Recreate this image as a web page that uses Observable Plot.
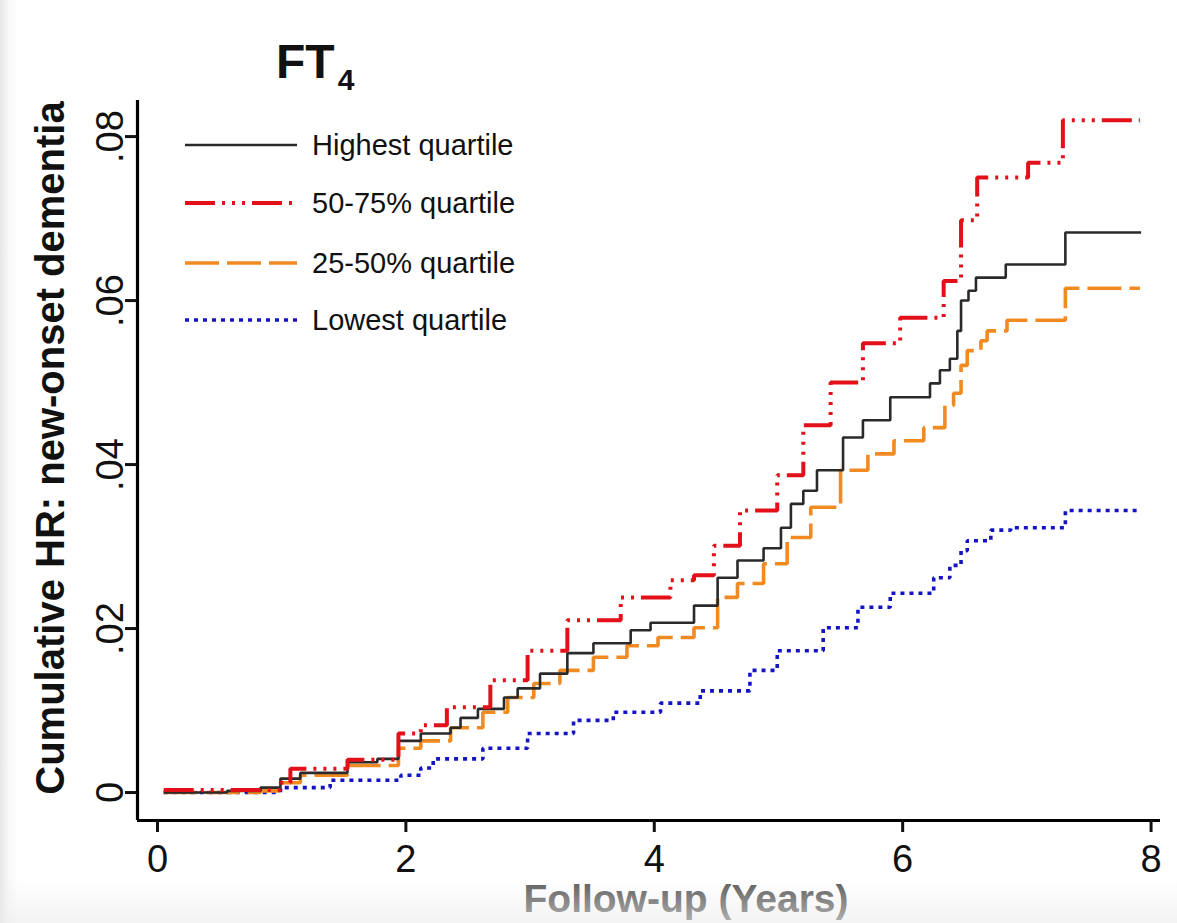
<!DOCTYPE html>
<html>
<head>
<meta charset="utf-8">
<script src="https://cdn.jsdelivr.net/npm/d3@7"></script>
<script src="https://cdn.jsdelivr.net/npm/@observablehq/plot@0.6"></script>
<style>
html,body{margin:0;padding:0;background:#fff;}
#chart{position:relative;width:1177px;height:923px;overflow:hidden;
  background:linear-gradient(to right,#e6e6e6 0px,#f7f7f7 8px,#ffffff 18px);}
#fade{position:absolute;left:0;top:878px;width:1177px;height:45px;pointer-events:none;
  background:linear-gradient(to bottom,rgba(244,244,244,0) 0%,rgba(236,236,236,0.6) 100%);}
</style>
</head>
<body>
<div id="chart"><div id="fade"></div></div>
<script>
// ---- data ----
const seriesNames = ["Highest quartile", "50-75% quartile", "25-50% quartile", "Lowest quartile"];

const highestT = [0.05,0.56,0.83,0.99,1.15,1.53,1.77,1.94,2.12,2.36,2.44,2.58,2.79,2.90,3.08,3.30,3.51,3.81,3.97,4.32,4.51,4.67,4.88,5.02,5.10,5.20,5.31,5.52,5.68,5.90,6.22,6.30,6.38,6.44,6.47,6.53,6.59,6.83,7.31,7.92];
const highestV = [0,0.0002,0.0006,0.0017,0.0024,0.0037,0.0041,0.0063,0.0072,0.0079,0.0091,0.0102,0.0116,0.0127,0.0145,0.0170,0.0182,0.0198,0.0207,0.0228,0.0262,0.0283,0.0298,0.0323,0.0352,0.0368,0.0393,0.0433,0.0454,0.0482,0.0499,0.0515,0.0529,0.0563,0.0600,0.0612,0.0628,0.0644,0.0683,0.0683];

const q5075T = [0.05,0.99,1.07,1.53,1.94,2.12,2.33,2.68,2.98,3.30,3.73,4.13,4.32,4.48,4.69,4.99,5.20,5.42,5.68,5.98,6.33,6.47,6.60,7.01,7.29,7.91];
const q5075V = [0.0003,0.0012,0.0029,0.0040,0.0072,0.0082,0.0104,0.0137,0.0173,0.0210,0.0238,0.0259,0.0265,0.0301,0.0344,0.0387,0.0448,0.0500,0.0548,0.0579,0.0624,0.0698,0.0750,0.0768,0.0820,0.0820];

const q2550T = [0.05,0.83,0.99,1.15,1.53,1.94,2.12,2.36,2.62,2.82,3.03,3.24,3.51,3.78,4.03,4.32,4.51,4.67,4.88,5.07,5.26,5.50,5.72,5.93,6.17,6.34,6.41,6.47,6.52,6.63,6.68,6.84,7.31,7.91];
const q2550V = [0,0.0002,0.0012,0.0021,0.0033,0.0054,0.0063,0.0079,0.0098,0.0116,0.0133,0.0149,0.0165,0.0179,0.0189,0.0201,0.0238,0.0255,0.0279,0.0311,0.0348,0.0393,0.0413,0.0429,0.0445,0.0472,0.0487,0.0521,0.0539,0.0551,0.0563,0.0576,0.0615,0.0615];

const lowestT = [0.05,0.99,1.39,1.96,2.12,2.22,2.62,2.98,3.35,3.67,4.05,4.37,4.77,4.99,5.36,5.64,5.90,6.25,6.38,6.47,6.52,6.71,6.87,7.31,7.89];
const lowestV = [0,0.0006,0.0015,0.0021,0.0030,0.0041,0.0054,0.0072,0.0088,0.0098,0.0109,0.0124,0.0149,0.0173,0.0201,0.0226,0.0243,0.0262,0.0277,0.0295,0.0307,0.0320,0.0323,0.0344,0.0344];

const xTicks = [0, 2, 4, 6, 8];
const yTicks = [0, 0.02, 0.04, 0.06, 0.08];
const yTickLabels = ["0", ".02", ".04", ".06", ".08"];

const titleMain = "FT";
const titleSub = "4";
const xLabel = "Follow-up (Years)";
const yLabel = "Cumulative HR: new-onset dementia";

// ---- styles ----
const styles = [
  {stroke: "#2a2a2a", strokeWidth: 2.6, dash: null},
  {stroke: "#e3101a", strokeWidth: 4, dash: "30,7,3,7,3,7,3,7"},
  {stroke: "#f28a22", strokeWidth: 3.6, dash: "34,8"},
  {stroke: "#1414c4", strokeWidth: 3.6, dash: "4,5"}
];

const seriesT = [highestT, q5075T, q2550T, lowestT];
const seriesV = [highestV, q5075V, q2550V, lowestV];

function rows(i) {
  return seriesT[i].map((t, k) => ({t, v: seriesV[i][k], s: seriesNames[i]}));
}

const xDomain = [-0.161, 8.076];
const yDomain = [-0.00341, 0.0844];
const font = "'Liberation Sans', Arial, Helvetica, sans-serif";

const lineMarks = [3, 2, 0, 1].map(i => Plot.line(rows(i), {
  x: "t", y: "v", curve: "step-after",
  stroke: styles[i].stroke, strokeWidth: styles[i].strokeWidth,
  strokeDasharray: styles[i].dash, strokeLinecap: "butt", strokeLinejoin: "miter"
}));

const plot = Plot.plot({
  width: 1177, height: 923,
  marginLeft: 137, marginRight: 17, marginTop: 100, marginBottom: 103,
  x: {domain: xDomain},
  y: {domain: yDomain},
  style: {background: "transparent", fontFamily: font, color: "#111", overflow: "visible"},
  marks: [
    ...lineMarks,
    Plot.ruleX([xDomain[0]], {stroke: "#000", strokeWidth: 3.2}),
    Plot.ruleY([yDomain[0]], {stroke: "#000", strokeWidth: 3.2}),
    Plot.axisX(xTicks, {tickSize: 12, tickPadding: 13, strokeWidth: 3, fontSize: 38, label: null, tickFormat: d => String(d)}),
    Plot.axisY(yTicks, {tickSize: 12, strokeWidth: 3, label: null, tickFormat: () => ""}),
    Plot.text(yTicks, {y: d => d, text: (d, i) => yTickLabels[i], frameAnchor: "left", dx: -27, rotate: -90,
      textAnchor: "middle", lineAnchor: "middle", fontSize: 38, fill: "#111"})
  ]
});

document.getElementById("chart").insertBefore(plot, document.getElementById("fade"));
const svg = d3.select(plot);

// title
const title = svg.append("text").attr("x", 276).attr("y", 78).attr("text-anchor", "start")
  .attr("font-family", font).attr("font-weight", "bold").attr("fill", "#111");
title.append("tspan").attr("font-size", 48).text(titleMain);
title.append("tspan").attr("font-size", 30).attr("dx", 3).attr("dy", 12).text(titleSub);

// y label
svg.append("text").attr("transform", "translate(50,448) rotate(-90)")
  .attr("text-anchor", "middle").attr("dy", "0.36em")
  .attr("font-family", font).attr("font-weight", "bold").attr("font-size", 40).attr("fill", "#111")
  .text(yLabel);

// x label
svg.append("text").attr("x", 686).attr("y", 912).attr("text-anchor", "middle")
  .attr("font-family", font).attr("font-weight", "bold").attr("font-size", 39).attr("fill", "#5a5a5a")
  .text(xLabel);

// legend
const legendY = [145, 203, 263, 320];
const lg = svg.append("g").attr("text-anchor", "start");
seriesNames.forEach((name, i) => {
  lg.append("line").attr("x1", 185).attr("x2", 297).attr("y1", legendY[i]).attr("y2", legendY[i])
    .attr("stroke", styles[i].stroke).attr("stroke-width", styles[i].strokeWidth)
    .attr("stroke-dasharray", styles[i].dash);
  lg.append("text").attr("x", 312).attr("y", legendY[i]).attr("dy", "0.36em").attr("text-anchor", "start")
    .attr("font-family", font).attr("font-size", 29).attr("fill", "#111").text(name);
});
</script>
</body>
</html>
